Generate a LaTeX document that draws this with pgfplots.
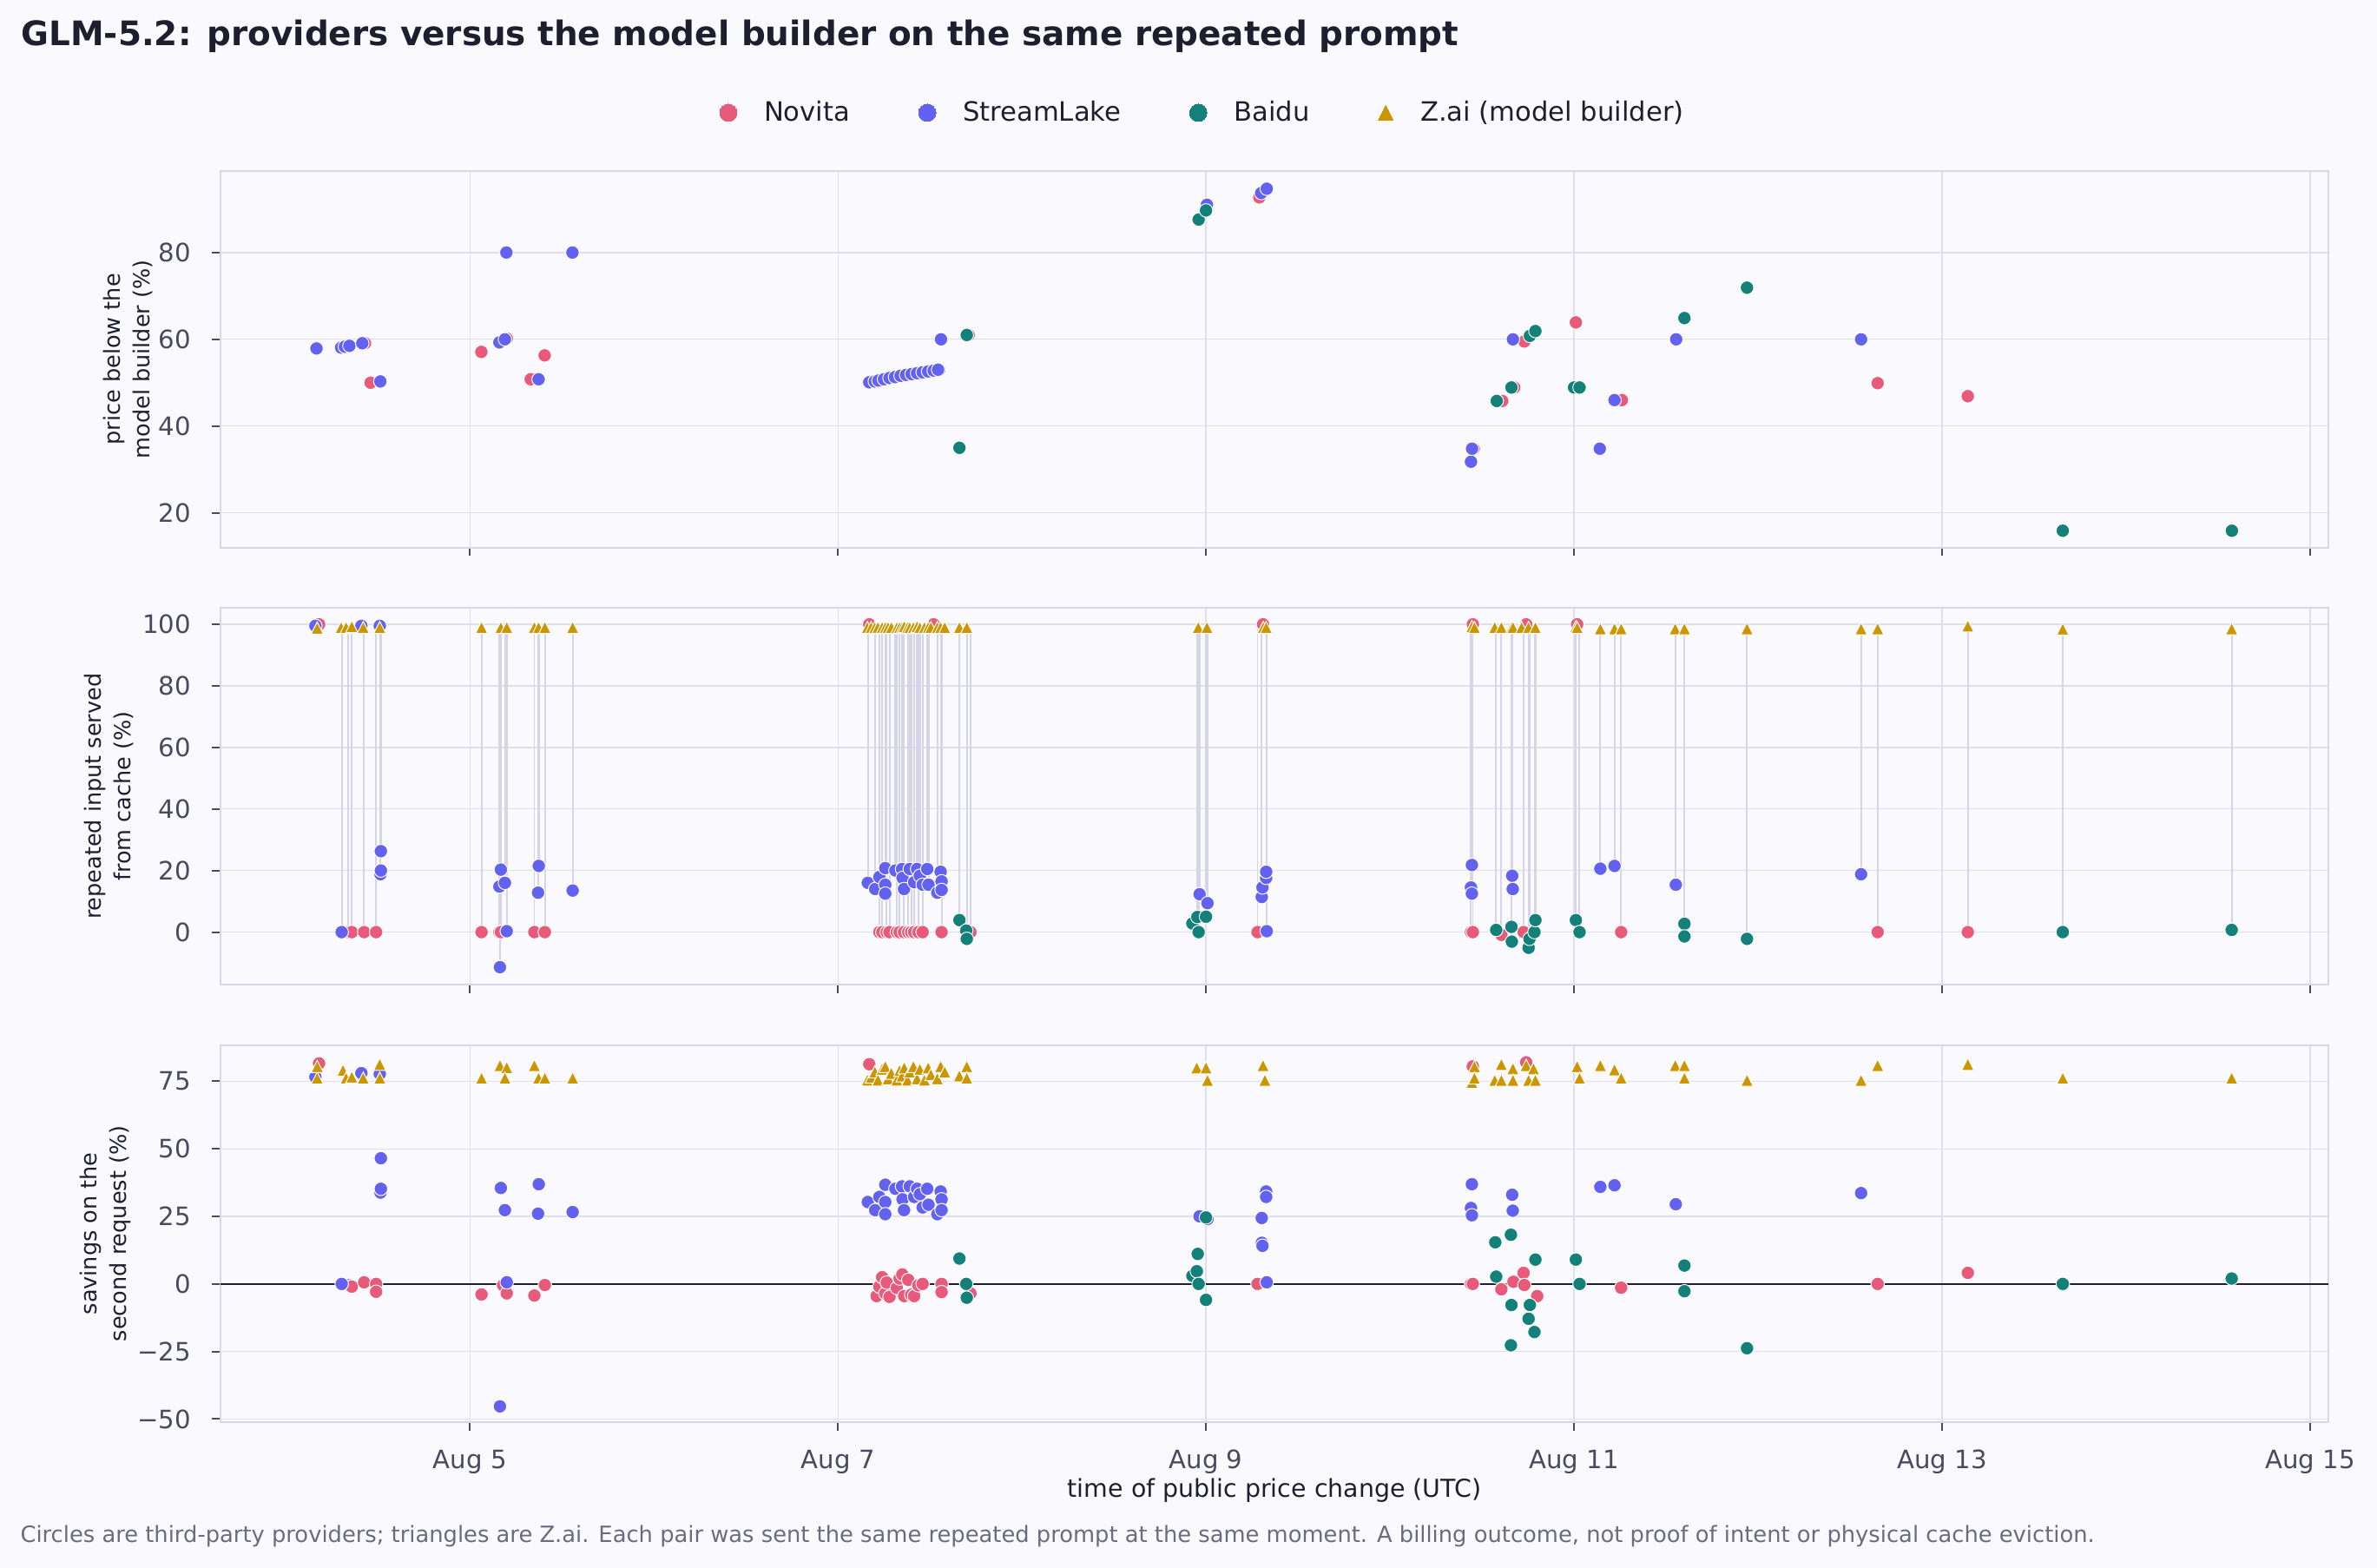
\documentclass[border=0pt]{standalone}
\usepackage{fontspec}
\setmainfont{DejaVu Sans}
\usepackage{pgfplots}
\pgfplotsset{compat=1.18}
\definecolor{bg}{HTML}{FAFAFE}
\definecolor{gridc}{HTML}{E0DEEC}
\definecolor{framec}{HTML}{D8D6E7}
\definecolor{tickc}{HTML}{4A4A5E}
\definecolor{labc}{HTML}{4A4A5E}
\definecolor{titc}{HTML}{1E1E2E}
\definecolor{footc}{HTML}{6B6B7D}
\definecolor{novc}{HTML}{E85A79}
\definecolor{strc}{HTML}{6361F0}
\definecolor{baic}{HTML}{13807A}
\definecolor{zaic}{HTML}{CC9600}
\definecolor{connc}{HTML}{D6D4E7}
\pgfdeclareplotmark{mtri}{%
  \pgfpathmoveto{\pgfqpoint{0pt}{\pgfplotmarksize}}%
  \pgfpathlineto{\pgfqpoint{-\pgfplotmarksize}{-\pgfplotmarksize}}%
  \pgfpathlineto{\pgfqpoint{\pgfplotmarksize}{-\pgfplotmarksize}}%
  \pgfpathclose\pgfusepathqfillstroke}
\pgfplotsset{
  panel/.style={scale only axis, width=998.9pt, height=178.5pt,
    xmin=3.6445, xmax=15.1, xtick={5,7,9,11,13,15},
    grid=major, major grid style={gridc, line width=0.55pt},
    axis line style={framec, line width=0.75pt},
    tick style={tickc, line width=0.8pt}, major tick length=4pt,
    tick align=outside, xtick pos=bottom, ytick pos=left,
    ticklabel style={font=\fontsize{12}{14}\selectfont, text=labc, inner sep=0pt},
    xticklabel style={anchor=north}, yticklabel style={anchor=east},
    xticklabel shift=9.0pt, yticklabel shift=9.9pt,
    /pgf/number format/assume math mode=true,
    ylabel style={font=\fontsize{10.5}{13.8}\selectfont, text=titc, align=center, anchor=center},
    axis background/.style={fill=bg}},
  nov/.style={only marks, mark=*, mark size=3.2pt, forget plot,
    mark options={draw=white, fill=novc, line width=0.4pt}},
  str/.style={only marks, mark=*, mark size=3.2pt, forget plot,
    mark options={draw=white, fill=strc, line width=0.4pt}},
  bai/.style={only marks, mark=*, mark size=3.2pt, forget plot,
    mark options={draw=white, fill=baic, line width=0.4pt}},
  zai/.style={only marks, mark=mtri, mark size=2.9pt, forget plot,
    mark options={draw=white, fill=zaic, line width=0.4pt}},
}
\begin{document}
\begin{tikzpicture}
\fill[bg] (-104.5pt,81pt) rectangle (1021.9pt,-661.9pt);
\node[anchor=base west, inner sep=0pt, font=\bfseries\fontsize{16}{19}\selectfont, text=titc] at (-94.6pt,59.6pt)
  {GLM-5.2: providers versus the model builder on the same repeated prompt};
\node[anchor=base west, inner sep=0pt, font=\fontsize{10.6}{12}\selectfont, text=footc] at (-95pt,-649.9pt)
  {Circles are third-party providers; triangles are Z.ai. Each pair was sent the same repeated prompt at the same moment. A billing outcome, not proof of intent or physical cache eviction.};
% ---------------- panel 1
\begin{axis}[panel, at={(0pt,0pt)}, anchor=north west,
  ymin=12, ymax=98.8, ytick={20,40,60,80}, xticklabels={},
  ylabel={price below the\\model builder (\%)},
  ylabel style={at={(axis description cs:-0.04395,0.5)}},
  legend image code/.code={\draw[#1] plot coordinates {(0pt,0pt)};},
  legend style={at={(0.4655,1)}, anchor=center, yshift=27.6pt, draw=none, fill=none,
    font=\fontsize{12.6}{14}\selectfont, text=titc, legend columns=4, inner sep=0pt,
    nodes={inner sep=0pt},
    /tikz/every odd column/.append style={column sep=12.8pt},
    /tikz/every even column/.append style={column sep=32.5pt}}]
\addlegendimage{only marks, mark=*, mark size=4.1pt, mark options={draw=novc, fill=novc, line width=0pt}}
\addlegendentry{Novita}
\addlegendimage{only marks, mark=*, mark size=4.1pt, mark options={draw=strc, fill=strc, line width=0pt}}
\addlegendentry{StreamLake}
\addlegendimage{only marks, mark=*, mark size=4.1pt, mark options={draw=baic, fill=baic, line width=0pt}}
\addlegendentry{Baidu}
\addlegendimage{only marks, mark=mtri, mark size=3.6pt, mark options={draw=zaic, fill=zaic, line width=0pt}}
\addlegendentry{Z.ai (model builder)}
\addplot[nov] coordinates {(4.33,58.3)(4.43,59.1)(4.46,50.0)(5.062,57.1)(5.20,60.2)(5.33,50.8)
 (5.406,56.3)(7.55,52.9)(7.71,61.0)(9.29,92.7)(10.455,34.8)(10.61,45.8)(10.675,48.9)(10.73,59.5)
 (11.01,63.9)(11.26,46.0)(12.65,49.9)(13.14,46.9)};
\addplot[str] coordinates {(4.166,57.9)(4.30,58.1)(4.32,58.3)(4.345,58.5)(4.415,59.1)(4.513,50.3)
 (5.16,59.3)(5.19,60.0)(5.198,80.0)(5.557,80.0)(5.373,50.8)
 (7.17,50.1)(7.20,50.3)(7.22,50.5)(7.25,50.8)(7.28,51.1)(7.31,51.3)(7.34,51.6)(7.37,51.8)
 (7.40,52.0)(7.43,52.2)(7.46,52.4)(7.49,52.6)(7.52,52.8)(7.544,53.0)
 (7.56,60.0)(9.005,91.0)(9.30,93.7)(9.33,94.7)(10.44,31.8)(10.446,34.8)(10.668,60.0)
 (11.14,34.8)(11.22,46.0)(11.555,60.0)(12.56,60.0)};
\addplot[bai] coordinates {(7.66,35.0)(7.70,61.0)(8.96,87.6)(9.0,89.7)(10.58,45.8)(10.66,48.9)
 (10.76,60.8)(10.79,61.9)(11.0,48.9)(11.03,48.9)(11.60,64.9)(11.94,71.9)(13.656,15.9)(14.575,15.9)};
\end{axis}
% ---------------- panel 2
\begin{axis}[panel, at={(0pt,-207.1pt)}, anchor=north west,
  ymin=-17.1, ymax=105.3, ytick={0,20,40,60,80,100}, xticklabels={},
  ylabel={repeated input served\\from cache (\%)},
  ylabel style={at={(axis description cs:-0.05286,0.5)}},
  unbounded coords=jump]
\addplot[connc, line width=0.8pt, forget plot] coordinates {
 (4.34,0)(4.34,99)(4.34,nan) (4.358,0)(4.358,99)(4.358,nan) (4.425,0)(4.425,99)(4.425,nan)
 (4.49,0)(4.49,99)(4.49,nan) (5.063,0)(5.063,99)(5.063,nan) (5.16,0)(5.16,99)(5.16,nan)
 (5.168,0)(5.168,99)(5.168,nan) (5.35,0)(5.35,99)(5.35,nan) (5.407,0)(5.407,99)(5.407,nan)
 (7.225,0)(7.225,99)(7.225,nan) (7.241,0)(7.241,99)(7.241,nan) (7.265,0)(7.265,99)(7.265,nan)
 (7.28,0)(7.28,99)(7.28,nan) (7.32,0)(7.32,99)(7.32,nan) (7.335,0)(7.335,99)(7.335,nan)
 (7.359,0)(7.359,99)(7.359,nan) (7.382,0)(7.382,99)(7.382,nan) (7.398,0)(7.398,99)(7.398,nan)
 (7.414,0)(7.414,99)(7.414,nan) (7.437,0)(7.437,99)(7.437,nan) (7.46,0)(7.46,99)(7.46,nan)
 (7.563,0)(7.563,99)(7.563,nan) (7.72,0)(7.72,99)(7.72,nan) (9.28,0)(9.28,99)(9.28,nan)
 (10.44,0)(10.44,99)(10.44,nan) (10.45,0)(10.45,99)(10.45,nan) (10.605,-0.9)(10.605,99)(10.605,nan)
 (10.726,0)(10.726,99)(10.726,nan) (11.256,0)(11.256,99)(11.256,nan) (12.65,0)(12.65,99)(12.65,nan)
 (13.14,0)(13.14,99)(13.14,nan)
 (4.303,0)(4.303,99)(4.303,nan) (4.514,18.8)(4.514,99)(4.514,nan) (4.516,26.3)(4.516,99)(4.516,nan)
 (5.163,-11.4)(5.163,99)(5.163,nan) (5.19,16)(5.19,99)(5.19,nan) (5.20,0.3)(5.20,99)(5.20,nan)
 (5.37,12.8)(5.37,99)(5.37,nan) (5.374,21.5)(5.374,99)(5.374,nan) (5.558,13.5)(5.558,99)(5.558,nan)
 (7.162,16.0)(7.162,99)(7.162,nan) (7.202,14.0)(7.202,99)(7.202,nan) (7.257,12.5)(7.257,99)(7.257,nan)
 (7.312,20.0)(7.312,99)(7.312,nan) (7.348,20.5)(7.348,99)(7.348,nan) (7.351,17.6)(7.351,99)(7.351,nan)
 (7.39,20.5)(7.39,99)(7.39,nan) (7.43,20.5)(7.43,99)(7.43,nan) (7.445,18.3)(7.445,99)(7.445,nan)
 (7.485,20.5)(7.485,99)(7.485,nan) (7.492,15.4)(7.492,99)(7.492,nan) (7.54,12.8)(7.54,99)(7.54,nan)
 (7.558,19.6)(7.558,99)(7.558,nan)
 (8.965,12.3)(8.965,99)(8.965,nan) (9.008,9.4)(9.008,99)(9.008,nan) (9.303,11.4)(9.303,99)(9.303,nan)
 (9.327,17.6)(9.327,99)(9.327,nan) (9.33,0.3)(9.33,99)(9.33,nan)
 (10.445,12.5)(10.445,99)(10.445,nan) (10.664,18.3)(10.664,99)(10.664,nan) (10.667,14.0)(10.667,99)(10.667,nan)
 (11.143,20.6)(11.143,99)(11.143,nan) (11.22,21.5)(11.22,99)(11.22,nan) (11.553,15.4)(11.553,99)(11.553,nan)
 (12.56,18.8)(12.56,99)(12.56,nan)
 (7.66,3.9)(7.66,99)(7.66,nan) (7.70,-2.2)(7.70,99)(7.70,nan) (8.953,4.9)(8.953,99)(8.953,nan)
 (8.96,0)(8.96,99)(8.96,nan) (9.0,5.0)(9.0,99)(9.0,nan) (10.577,0.7)(10.577,99)(10.577,nan)
 (10.66,-3.1)(10.66,99)(10.66,nan) (10.753,-5.1)(10.753,99)(10.753,nan) (10.758,-2.2)(10.758,99)(10.758,nan)
 (10.785,0)(10.785,99)(10.785,nan) (10.79,3.9)(10.79,99)(10.79,nan) (11.01,3.9)(11.01,99)(11.01,nan)
 (11.03,0)(11.03,99)(11.03,nan) (11.60,-1.4)(11.60,99)(11.60,nan) (11.94,-2.2)(11.94,99)(11.94,nan)
 (13.656,0)(13.656,99)(13.656,nan) (14.574,0.7)(14.574,99)(14.574,nan)};
\addplot[nov] coordinates {(4.18,100)(4.34,0)(4.358,0)(4.425,0)(4.49,0)(5.063,0)(5.16,0)(5.168,0)
 (5.35,0)(5.407,0)(7.17,100)(7.225,0)(7.241,0)(7.265,0)(7.28,0)(7.32,0)(7.335,0)(7.359,0)(7.382,0)
 (7.398,0)(7.414,0)(7.437,0)(7.46,0)(7.563,0)(7.52,100)(7.72,0)(9.28,0)(9.31,100)(10.44,0)(10.45,0)
 (10.45,100)(10.605,-0.9)(10.726,0)(10.74,100)(11.017,100)(11.256,0)(12.65,0)(13.14,0)};
\addplot[str] coordinates {(4.16,99.5)(4.303,0)(4.41,99.5)(4.51,99.5)(4.514,18.8)(4.516,20.0)
 (4.516,26.3)(5.16,14.8)(5.163,-11.4)(5.168,20.3)(5.19,16.0)(5.20,0.3)(5.37,12.8)(5.374,21.5)(5.558,13.5)
 (7.162,16.0)(7.202,14.0)(7.225,17.9)(7.257,20.8)(7.257,15.4)(7.257,12.5)(7.312,20.0)(7.348,20.5)
 (7.351,17.6)(7.359,14.0)(7.39,20.5)(7.414,16.2)(7.43,20.5)(7.445,18.3)(7.46,15.4)(7.485,20.5)
 (7.492,15.4)(7.54,12.8)(7.558,19.6)(7.563,16.5)(7.563,13.7)
 (8.965,12.3)(9.008,9.4)(9.303,11.4)(9.307,14.5)(9.327,17.6)(9.327,19.6)(9.33,0.3)(10.44,14.5)
 (10.445,12.5)(10.445,21.8)(10.664,18.3)(10.667,14.0)(11.143,20.6)(11.22,21.5)(11.553,15.4)(12.56,18.8)};
\addplot[bai] coordinates {(7.66,3.9)(7.697,0.5)(7.70,-2.2)(8.926,2.8)(8.953,4.9)(8.96,0)(9.0,5.0)
 (10.577,0.7)(10.66,1.7)(10.662,-3.1)(10.753,-5.1)(10.758,-2.2)(10.785,0)(10.79,3.9)(11.01,3.9)
 (11.03,0)(11.60,2.7)(11.60,-1.4)(11.94,-2.2)(13.656,0)(14.574,0.7)};
\addplot[zai] coordinates {(4.17,98.8)(4.30,99)(4.327,99)(4.358,99.3)(4.42,99)(4.51,99)
 (5.063,99)(5.168,99)(5.20,99)(5.35,99)(5.373,99)(5.407,99)(5.558,99)
 (7.16,99)(7.18,99)(7.20,99)(7.217,99)(7.24,99)(7.257,99)(7.272,99)(7.29,99)(7.32,99)(7.335,99)
 (7.348,99)(7.36,99.3)(7.378,99)(7.39,99)(7.41,99)(7.43,99.3)(7.445,99)(7.47,99)(7.49,99)
 (7.505,99)(7.54,99)(7.558,99)(7.58,99)(7.66,99)(7.70,99)
 (8.958,99)(9.005,99)(9.311,99)(9.327,99)
 (10.445,99.3)(10.459,99)(10.569,99)(10.605,99)(10.66,99)(10.668,99)(10.715,99)(10.753,99)
 (10.79,99)(11.01,99.3)(11.017,99)(11.143,98.6)(11.22,98.6)(11.256,98.6)(11.55,98.6)(11.60,98.6)
 (11.94,98.6)(12.56,98.6)(12.65,98.6)(13.14,99.5)(13.656,98.5)(14.574,98.6)};
\end{axis}
% ---------------- panel 3
\begin{axis}[panel, at={(0pt,-414.3pt)}, anchor=north west,
  ymin=-51.1, ymax=88.3, ytick={-50,-25,0,25,50,75},
  yticklabels={−50,−25,0,25,50,75},
  xticklabels={Aug 5,Aug 7,Aug 9,Aug 11,Aug 13,Aug 15},
  ylabel={savings on the\\second request (\%)},
  ylabel style={at={(axis description cs:-0.05456,0.5)}},
  xlabel={time of public price change (UTC)},
  xlabel style={font=\fontsize{11.7}{14}\selectfont, text=titc,
    at={(axis description cs:0.5,0)}, anchor=base, yshift=-35.8pt}]
\addplot[titc, line width=1.0pt, forget plot] coordinates {(3.6445,0)(15.1,0)};
\addplot[nov] coordinates {(4.18,81.6)(4.34,-0.5)(4.358,-1.0)(4.425,0.6)(4.49,0)(4.49,-2.9)
 (5.063,-3.9)(5.18,-0.5)(5.20,-3.5)(5.35,-4.3)(5.407,-0.4)(7.17,81.3)
 (7.21,-4.5)(7.225,-1.0)(7.24,2.5)(7.257,-3.5)(7.265,0.5)(7.28,-4.8)(7.32,-1.5)(7.335,2.0)
 (7.35,3.5)(7.36,-4.5)(7.382,1.5)(7.398,-4.0)(7.414,-4.5)(7.437,-0.5)(7.46,0)
 (7.563,0)(7.563,-3.0)(7.72,-3.5)(9.28,0)(10.44,0)(10.45,0)(10.45,80.5)(10.605,-2.0)(10.671,0.8)
 (10.726,4.1)(10.73,-0.4)(10.74,82.0)(10.80,-4.5)(11.256,-1.4)(12.65,0)(13.14,4.1)};
\addplot[str] coordinates {(4.16,76.6)(4.303,0)(4.41,78.0)(4.51,77.7)(4.514,33.8)(4.516,35.2)
 (4.516,46.5)(5.163,-45.3)(5.168,35.5)(5.19,27.3)(5.20,0.6)(5.37,26.0)(5.374,36.9)(5.558,26.6)
 (7.162,30.3)(7.202,27.3)(7.225,32.2)(7.257,36.7)(7.257,30.3)(7.257,25.8)(7.312,35.2)(7.348,36.1)
 (7.351,31.3)(7.359,27.3)(7.39,36.1)(7.414,32.2)(7.43,35.2)(7.445,33.2)(7.46,28.3)(7.485,35.2)
 (7.492,29.3)(7.54,25.8)(7.558,34.2)(7.563,31.3)(7.563,27.3)
 (8.965,25.0)(9.008,24.0)(9.303,24.4)(9.303,15.2)(9.307,14.1)(9.327,34.2)(9.327,32.2)(9.33,0.6)
 (10.44,28.1)(10.445,25.4)(10.445,36.9)(10.664,33.0)(10.667,27.1)(11.143,35.9)(11.22,36.5)
 (11.553,29.5)(12.56,33.6)};
\addplot[bai] coordinates {(7.66,9.4)(7.697,0)(7.70,-5.1)(8.926,3.0)(8.95,4.7)(8.955,11.1)(8.96,0)
 (9.0,-5.9)(9.0,24.6)(10.572,15.4)(10.577,2.7)(10.657,18.2)(10.66,-7.8)(10.657,-22.7)(10.753,-12.9)
 (10.76,-7.8)(10.785,-17.8)(10.79,9.0)(11.01,9.0)(11.03,0)(11.60,6.8)(11.60,-2.7)(11.94,-23.8)
 (13.656,0)(14.574,2.0)};
\addplot[zai] coordinates {(4.17,76.2)(4.17,80.5)(4.31,79.1)(4.327,76.2)(4.358,76.6)(4.42,76.2)
 (4.51,81.3)(4.51,76.2)(5.063,76.2)(5.163,80.9)(5.2,80.1)(5.19,76.2)(5.35,80.9)(5.373,76.2)
 (5.407,76.2)(5.558,76.2)
 (7.16,75.5)(7.18,76.5)(7.20,78.5)(7.217,75.5)(7.24,79.5)(7.257,80.5)(7.272,76.0)(7.29,78.0)
 (7.32,75.5)(7.335,79.0)(7.348,77.0)(7.36,80.0)(7.378,75.5)(7.39,78.5)(7.41,80.5)(7.43,76.0)
 (7.445,79.5)(7.47,75.5)(7.49,80.0)(7.505,77.5)(7.54,76.0)(7.558,80.5)(7.58,78.5)(7.66,77.0)
 (7.70,80.5)(7.70,76.2)
 (8.95,80.0)(9.0,80.0)(9.008,75.4)(9.31,80.9)(9.32,75.4)(10.445,74.6)(10.459,80.5)(10.459,76.2)
 (10.569,75.4)(10.605,81.3)(10.605,75.4)(10.668,79.7)(10.668,75.4)(10.74,80.9)(10.753,75.4)
 (10.78,79.7)(10.79,75.4)(11.017,80.5)(11.03,76.2)(11.143,80.9)(11.22,79.3)(11.256,76.2)
 (11.55,80.9)(11.60,80.9)(11.60,76.2)(11.94,75.4)(12.56,75.4)(12.65,80.9)(13.14,81.3)
 (13.656,76.2)(14.574,76.2)};
\end{axis}
\pgfresetboundingbox
\path[use as bounding box] (-104.5pt,81pt) rectangle (1021.9pt,-661.9pt);
\end{tikzpicture}
\end{document}
